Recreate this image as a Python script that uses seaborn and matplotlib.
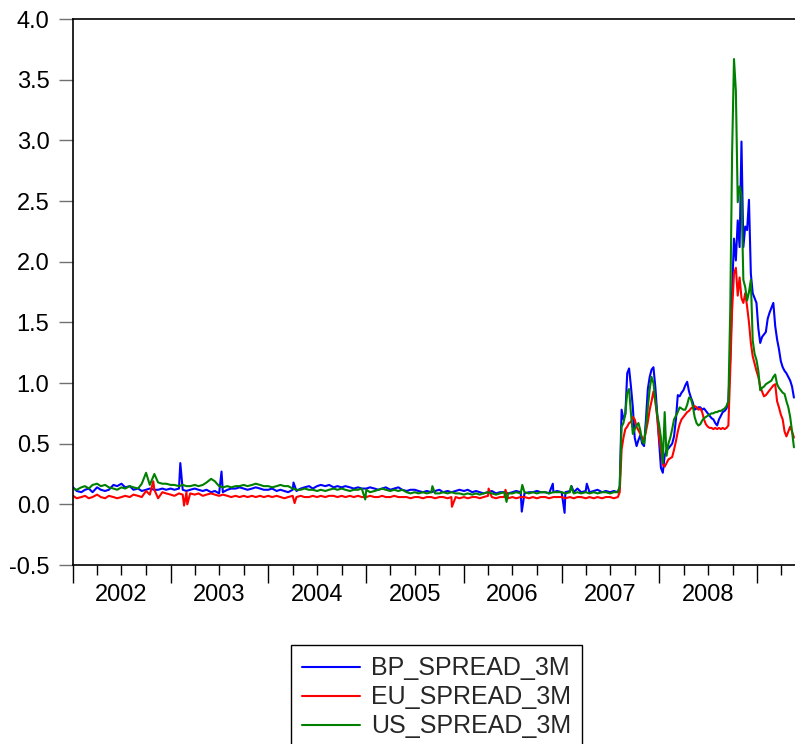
import matplotlib
matplotlib.use("Agg")
import matplotlib.pyplot as plt
import matplotlib.dates as mdates
from matplotlib.ticker import FuncFormatter, NullFormatter, MultipleLocator
import pandas as pd
import seaborn as sns

# semi-monthly readings, Jan 2002 - Jul 2007 (24 per year)
bp_flat = [0.14, 0.11, 0.10, 0.12, 0.13, 0.10, 0.14, 0.12, 0.11, 0.12, 0.16, 0.15,
           0.17, 0.14, 0.15, 0.12, 0.13, 0.11, 0.12, 0.13, 0.12, 0.12, 0.13, 0.12,
           0.13, 0.12, 0.13, 0.12, 0.11, 0.12, 0.13, 0.12, 0.11, 0.12, 0.10, 0.11,
           0.09, 0.10, 0.12, 0.13, 0.13, 0.14, 0.13, 0.12, 0.13, 0.14, 0.13, 0.12,
           0.12, 0.13, 0.11, 0.12, 0.11, 0.10, 0.12, 0.11, 0.13, 0.14, 0.15, 0.13,
           0.15, 0.16, 0.15, 0.16, 0.14, 0.15, 0.14, 0.15, 0.14, 0.13, 0.14, 0.13,
           0.13, 0.14, 0.13, 0.12, 0.13, 0.14, 0.12, 0.13, 0.14, 0.12, 0.11, 0.12,
           0.12, 0.11, 0.10, 0.11, 0.10, 0.11, 0.12, 0.10, 0.11, 0.10, 0.11, 0.12,
           0.11, 0.12, 0.10, 0.11, 0.10, 0.09, 0.10, 0.11, 0.09, 0.10, 0.10, 0.09,
           0.10, 0.11, 0.10, 0.09, 0.10, 0.10, 0.11, 0.10, 0.10, 0.09, 0.10, 0.11,
           0.10, 0.10, 0.11, 0.10, 0.13, 0.10, 0.11, 0.10, 0.11, 0.12, 0.10, 0.11,
           0.10, 0.11]
eu_flat = [0.07, 0.05, 0.06, 0.07, 0.05, 0.06, 0.08, 0.06, 0.05, 0.07, 0.06, 0.05,
           0.06, 0.07, 0.06, 0.08, 0.07, 0.06, 0.11, 0.08, 0.12, 0.05, 0.10, 0.09,
           0.08, 0.07, 0.09, 0.08, 0.10, 0.09, 0.08, 0.09, 0.07, 0.08, 0.09, 0.08,
           0.07, 0.08, 0.07, 0.06, 0.07, 0.06, 0.07, 0.06, 0.07, 0.06, 0.07, 0.06,
           0.07, 0.06, 0.07, 0.06, 0.05, 0.06, 0.07, 0.06, 0.07, 0.06, 0.06, 0.07,
           0.06, 0.07, 0.06, 0.07, 0.07, 0.06, 0.07, 0.06, 0.07, 0.06, 0.07, 0.06,
           0.06, 0.07, 0.06, 0.06, 0.07, 0.06, 0.06, 0.07, 0.06, 0.06, 0.06, 0.05,
           0.06, 0.06, 0.05, 0.06, 0.06, 0.05, 0.06, 0.06, 0.05, 0.06, 0.06, 0.05,
           0.06, 0.05, 0.06, 0.06, 0.05, 0.06, 0.07, 0.06, 0.05, 0.06, 0.06, 0.05,
           0.06, 0.05, 0.06, 0.06, 0.05, 0.06, 0.05, 0.06, 0.06, 0.05, 0.06, 0.06,
           0.06, 0.05, 0.06, 0.05, 0.06, 0.06, 0.05, 0.06, 0.05, 0.06, 0.05, 0.06,
           0.06, 0.05]
us_flat = [0.13, 0.12, 0.14, 0.15, 0.13, 0.16, 0.17, 0.15, 0.16, 0.14, 0.13, 0.12,
           0.14, 0.13, 0.15, 0.14, 0.13, 0.17, 0.26, 0.16, 0.25, 0.18, 0.17, 0.17,
           0.16, 0.16, 0.15, 0.16, 0.15, 0.15, 0.16, 0.15, 0.16, 0.18, 0.21, 0.19,
           0.15, 0.14, 0.15, 0.14, 0.15, 0.15, 0.16, 0.15, 0.16, 0.17, 0.16, 0.15,
           0.15, 0.14, 0.15, 0.16, 0.15, 0.15, 0.13, 0.12, 0.12, 0.13, 0.12, 0.12,
           0.11, 0.12, 0.11, 0.12, 0.13, 0.12, 0.13, 0.12, 0.11, 0.12, 0.12, 0.13,
           0.12, 0.10, 0.11, 0.12, 0.13, 0.12, 0.11, 0.12, 0.11, 0.12, 0.10, 0.09,
           0.10, 0.09, 0.10, 0.09, 0.10, 0.09, 0.09, 0.10, 0.09, 0.10, 0.09, 0.09,
           0.08, 0.09, 0.08, 0.09, 0.08, 0.09, 0.10, 0.09, 0.08, 0.09, 0.10, 0.09,
           0.09, 0.10, 0.09, 0.10, 0.09, 0.10, 0.09, 0.10, 0.10, 0.09, 0.10, 0.10,
           0.10, 0.09, 0.10, 0.09, 0.10, 0.09, 0.10, 0.09, 0.10, 0.09, 0.10, 0.10,
           0.09, 0.10]

# weekly readings, 2007-07-30 to 2009-05-18
bp_crisis = [0.10, 0.14, 0.78, 0.70, 0.74, 1.08, 1.12, 0.97, 0.80, 0.55,
             0.48, 0.53, 0.57, 0.50, 0.48, 0.70, 0.95, 1.05, 1.11, 1.13,
             0.97, 0.75, 0.53, 0.30, 0.26, 0.40, 0.45, 0.46, 0.48, 0.50,
             0.56, 0.70, 0.90, 0.89, 0.92, 0.94, 0.98, 1.01, 0.93, 0.88,
             0.84, 0.78, 0.79, 0.80, 0.80, 0.78, 0.79, 0.77, 0.75, 0.73,
             0.71, 0.70, 0.67, 0.65, 0.70, 0.73, 0.76, 0.77, 0.79, 0.85,
             1.20, 1.75, 2.19, 2.01, 2.34, 2.12, 2.99, 2.12, 2.29, 2.26,
             2.51, 1.90, 1.74, 1.70, 1.66, 1.45, 1.33, 1.38, 1.40, 1.42,
             1.53, 1.58, 1.62, 1.66, 1.47, 1.36, 1.28, 1.18, 1.13, 1.10,
             1.08, 1.05, 1.02, 0.97, 0.88]
eu_crisis = [0.06, 0.10, 0.45, 0.55, 0.62, 0.64, 0.67, 0.68, 0.72, 0.70,
             0.64, 0.61, 0.58, 0.55, 0.53, 0.60, 0.68, 0.78, 0.85, 0.93,
             0.85, 0.72, 0.55, 0.45, 0.33, 0.31, 0.34, 0.37, 0.38, 0.39,
             0.45, 0.52, 0.60, 0.66, 0.70, 0.72, 0.74, 0.76, 0.77, 0.79,
             0.80, 0.81, 0.80, 0.78, 0.79, 0.76, 0.70, 0.66, 0.64, 0.63,
             0.63, 0.62, 0.63, 0.62, 0.63, 0.62, 0.63, 0.62, 0.63, 0.65,
             1.10, 1.60, 1.90, 1.95, 1.72, 1.87, 1.70, 1.66, 1.74, 1.63,
             1.50, 1.33, 1.22, 1.16, 1.10, 1.05, 0.97, 0.93, 0.89, 0.90,
             0.92, 0.94, 0.96, 0.98, 0.99, 0.85, 0.80, 0.74, 0.70, 0.60,
             0.56, 0.60, 0.64, 0.60, 0.55]
us_crisis = [0.10, 0.15, 0.64, 0.67, 0.75, 0.92, 0.95, 0.75, 0.58, 0.62,
             0.65, 0.67, 0.61, 0.52, 0.50, 0.64, 0.80, 0.95, 1.05, 1.00,
             0.86, 0.74, 0.66, 0.55, 0.34, 0.76, 0.40, 0.50, 0.55, 0.62,
             0.70, 0.73, 0.76, 0.80, 0.79, 0.78, 0.78, 0.82, 0.88, 0.87,
             0.81, 0.72, 0.67, 0.65, 0.66, 0.69, 0.71, 0.72, 0.73, 0.74,
             0.75, 0.75, 0.76, 0.76, 0.77, 0.77, 0.78, 0.79, 0.81, 0.85,
             1.60, 2.90, 3.67, 3.41, 2.49, 2.62, 2.55, 1.85, 1.79, 1.68,
             1.75, 1.85, 1.35, 1.24, 1.19, 1.10, 0.94, 0.96, 0.97, 0.99,
             1.00, 1.01, 1.02, 1.05, 1.07, 0.99, 0.96, 0.94, 0.92, 0.91,
             0.85, 0.80, 0.72, 0.60, 0.47]

# single-day spikes
bp_spike_dates = ["2003-02-06", "2003-07-10", "2004-04-04", "2006-08-05",
                  "2006-11-29", "2007-01-12", "2007-02-07", "2007-04-05"]
bp_spike_vals = [0.34, 0.27, 0.18, -0.06, 0.17, -0.07, 0.15, 0.17]
eu_spike_dates = ["2002-10-28", "2003-02-20", "2003-03-04", "2004-04-08",
                  "2005-11-17", "2006-04-03", "2006-06-05"]
eu_spike_vals = [0.19, -0.01, 0.00, 0.01, -0.02, 0.13, 0.12]
us_spike_dates = ["2004-12-28", "2005-09-05", "2006-06-09", "2006-08-07", "2007-02-05"]
us_spike_vals = [0.04, 0.15, 0.02, 0.16, 0.15]

names = ["BP_SPREAD_3M", "EU_SPREAD_3M", "US_SPREAD_3M"]
colors = ["#0000ff", "#ff0000", "#008000"]

flat_dates = pd.date_range("2002-01-01", "2007-07-16", freq="SMS")
crisis_dates = pd.date_range("2007-07-30", "2009-05-18", freq="W-MON")


def build(flat, crisis, sd, sv):
    s = pd.concat([pd.Series(flat, index=flat_dates),
                   pd.Series(crisis, index=crisis_dates),
                   pd.Series(sv, index=pd.to_datetime(sd))])
    return s.sort_index()


series = [build(bp_flat, bp_crisis, bp_spike_dates, bp_spike_vals),
          build(eu_flat, eu_crisis, eu_spike_dates, eu_spike_vals),
          build(us_flat, us_crisis, us_spike_dates, us_spike_vals)]

sns.set_theme(style="ticks")
plt.rcParams["font.family"] = ["Liberation Sans", "DejaVu Sans"]
plt.rcParams["axes.unicode_minus"] = False

fig = plt.figure(figsize=(7.95, 7.44), dpi=100)
ax = fig.add_axes([73 / 795, 1 - 565 / 744, 1 - 73 / 795, (565 - 19) / 744])

for s, name, col in zip(series, names, colors):
    df = pd.DataFrame({"date": s.index, "value": s.values})
    sns.lineplot(data=df, x="date", y="value", color=col, lw=1.5, label=name,
                 estimator=None, ax=ax)

ax.set_xlim(pd.Timestamp("2002-01-01"), pd.Timestamp("2009-05-22"))
ax.set_ylim(-0.5, 4.0)
ax.yaxis.set_major_locator(MultipleLocator(0.5))
ax.yaxis.set_major_formatter(FuncFormatter(lambda v, p: f"{v:.1f}"))
ax.set_xlabel("")
ax.set_ylabel("")

ax.xaxis.set_major_locator(mdates.YearLocator())
ax.xaxis.set_major_formatter(NullFormatter())
ax.xaxis.set_minor_locator(mdates.MonthLocator(bymonth=[4, 7, 10]))


def year_label(v, p):
    d = mdates.num2date(v)
    return str(d.year) if d.month == 7 else ""


ax.xaxis.set_minor_formatter(FuncFormatter(year_label))
ax.tick_params(axis="x", which="major", length=13, width=1, color="black")
ax.tick_params(axis="x", which="minor", length=7, width=1, color="black",
               pad=7, labelsize=17, labelcolor="black")
ax.tick_params(axis="y", length=10, width=1, color="#707070", pad=7,
               labelsize=17, labelcolor="black")

for side in ["left", "top", "bottom"]:
    ax.spines[side].set_color("black")
    ax.spines[side].set_linewidth(1.2)
ax.spines["right"].set_visible(False)

leg = ax.legend(loc="upper left", bbox_to_anchor=(291 / 795, 1 - 645 / 744),
                bbox_transform=fig.transFigure, frameon=True, fancybox=False,
                edgecolor="black", framealpha=1, fontsize=18, handlelength=2.3,
                handletextpad=0.45, labelspacing=0.2, borderpad=0.45,
                borderaxespad=0)
leg.get_frame().set_linewidth(1.0)

fig.savefig("out.png", dpi=100)
